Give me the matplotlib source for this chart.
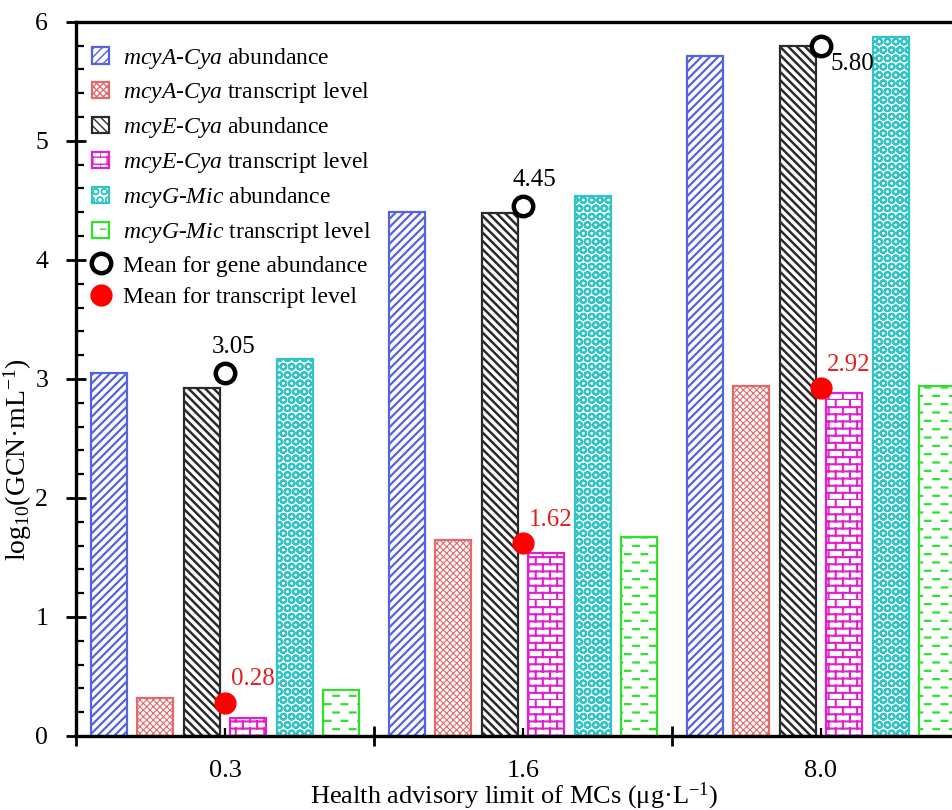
import warnings
import numpy as np
import matplotlib
matplotlib.use("Agg")
import matplotlib.pyplot as plt
import matplotlib.hatch as mhatch
from matplotlib.path import Path
from matplotlib.ticker import MultipleLocator

warnings.filterwarnings("ignore")


# custom hatches: bricks ('b') and staggered dashes ('d')
class BrickHatch(mhatch.HatchPatternBase):
    def __init__(self, hatch, density):
        self.rows = int(hatch.count('b') * density * 1.2)
        self.cols = max(self.rows // 2, 1)
        self.num_vertices = self.rows * 2 + self.rows * self.cols * 2

    def set_vertices_and_codes(self, vertices, codes):
        k = 0
        for i in range(self.rows):
            y = i / self.rows
            vertices[k] = (0, y); vertices[k + 1] = (1, y)
            codes[k] = Path.MOVETO; codes[k + 1] = Path.LINETO
            k += 2
            shift = 0.5 / self.cols if i % 2 else 0.0
            for j in range(self.cols):
                xx = j / self.cols + shift
                vertices[k] = (xx, y); vertices[k + 1] = (xx, y + 1 / self.rows)
                codes[k] = Path.MOVETO; codes[k + 1] = Path.LINETO
                k += 2


class DashHatch(mhatch.HatchPatternBase):
    def __init__(self, hatch, density):
        self.rows = int(hatch.count('d') * density)
        self.cols = max(self.rows // 2, 1)
        self.num_vertices = self.rows * self.cols * 2

    def set_vertices_and_codes(self, vertices, codes):
        k = 0
        for i in range(self.rows):
            y = (i + 0.5) / self.rows
            shift = 0.5 / self.cols if i % 2 else 0.0
            for j in range(self.cols):
                xx = j / self.cols + shift
                vertices[k] = (xx, y); vertices[k + 1] = (xx + 0.33 / self.cols, y)
                codes[k] = Path.MOVETO; codes[k + 1] = Path.LINETO
                k += 2


mhatch._hatch_types.extend([BrickHatch, DashHatch])

plt.rcParams['font.family'] = ['Liberation Serif', 'DejaVu Serif']
plt.rcParams['mathtext.fontset'] = 'custom'
plt.rcParams['mathtext.rm'] = 'Liberation Serif'
plt.rcParams['mathtext.it'] = 'Liberation Serif:italic'

# data
groups = ['0.3', '1.6', '8.0']
mcyA_abund = [3.05, 4.40, 5.71]
mcyA_trans = [0.32, 1.65, 2.94]
mcyE_abund = [2.92, 4.39, 5.80]
mcyE_trans = [0.15, 1.54, 2.88]
mcyG_abund = [3.17, 4.54, 5.87]
mcyG_trans = [0.39, 1.67, 2.94]
mean_abund = [3.05, 4.45, 5.80]
mean_trans = [0.28, 1.62, 2.92]

series = [
    (mcyA_abund, r'$\mathit{mcyA}$-$\mathit{Cya}$ abundance', '#5563e0', '////', 1.6),
    (mcyA_trans, r'$\mathit{mcyA}$-$\mathit{Cya}$ transcript level', '#e26a6a', 'xxxxx', 0.8),
    (mcyE_abund, r'$\mathit{mcyE}$-$\mathit{Cya}$ abundance', '#2b2b2b', '\\\\\\\\', 1.8),
    (mcyE_trans, r'$\mathit{mcyE}$-$\mathit{Cya}$ transcript level', '#e020d0', 'bb', 1.5),
    (mcyG_abund, r'$\mathit{mcyG}$-$\mathit{Mic}$ abundance', '#30c4c4', 'OO', 1.5),
    (mcyG_trans, r'$\mathit{mcyG}$-$\mathit{Mic}$ transcript level', '#30e030', 'dd', 1.6),
]

fig = plt.figure(figsize=(9.53, 8.10), dpi=100)
ax = fig.add_axes([0.0797, 0.0914, 0.9203, 0.8816])

x = np.arange(len(groups))
step = 0.156
width = 0.121
handles = []
for i, (vals, lab, col, hat, hlw) in enumerate(series):
    with plt.rc_context({'hatch.linewidth': hlw}):
        b = ax.bar(x + (i - 2.5) * step, vals, width, facecolor='white',
                   edgecolor=col, hatch=hat, linewidth=1.6, label=lab, zorder=2)
    handles.append(b)

h1, = ax.plot(x, mean_abund, 'o', ms=14, mfc='white', mec='black', mew=3.2,
              ls='none', zorder=4, label='Mean for gene abundance')
h2, = ax.plot(x, mean_trans, 'o', ms=15, color='#ff0000', ls='none',
              zorder=4, label='Mean for transcript level')

abund_offsets = [(6, 11), (8, 11), (7, -5)]
for xi, v, off in zip(x, mean_abund, abund_offsets):
    ax.annotate(f'{v:.2f}', (xi, v), xytext=off, textcoords='offset points',
                ha='center' if off[1] > 0 else 'left',
                va='bottom' if off[1] > 0 else 'top', fontsize=18)
for xi, v in zip(x, mean_trans):
    ax.annotate(f'{v:.2f}', (xi, v), xytext=(4, 9), textcoords='offset points',
                ha='left', va='bottom', fontsize=18, color='#e02020')

ax.set_xlim(-0.5, 2.443)
ax.set_ylim(0, 6)

ax.yaxis.set_major_locator(MultipleLocator(1))
ax.yaxis.set_minor_locator(MultipleLocator(0.2))
ax.tick_params(axis='y', which='major', direction='inout', length=14, width=2,
               labelsize=18.5, pad=13)
ax.tick_params(axis='y', which='minor', direction='in', length=6, width=1.6)

ax.set_xticks([-0.5, 0.5, 1.5], labels=['', '', ''])
ax.set_xticks(x, labels=groups, minor=True)
ax.tick_params(axis='x', which='major', direction='inout', length=14, width=2)
ax.tick_params(axis='x', which='minor', direction='in', length=6, width=1.6,
               labelsize=19, pad=17)

for s in ['left', 'bottom', 'top']:
    ax.spines[s].set_linewidth(2.4)
ax.spines['right'].set_visible(False)

ax.set_ylabel(r'log$_{10}$(GCN·mL$^{-1}$)', fontsize=20)
ax.yaxis.set_label_coords(-0.048, 0.387)
ax.set_xlabel(r'Health advisory limit of MCs (μg·L$^{-1}$)', fontsize=19, labelpad=-1)

ax.legend(handles=handles + [h1, h2], loc='upper left', bbox_to_anchor=(0.0, 0.99),
          frameon=False, fontsize=17, handlelength=0.7, handleheight=0.7,
          handletextpad=0.6, labelspacing=0.42, borderaxespad=0.3)

fig.savefig('out.png', dpi=100)
